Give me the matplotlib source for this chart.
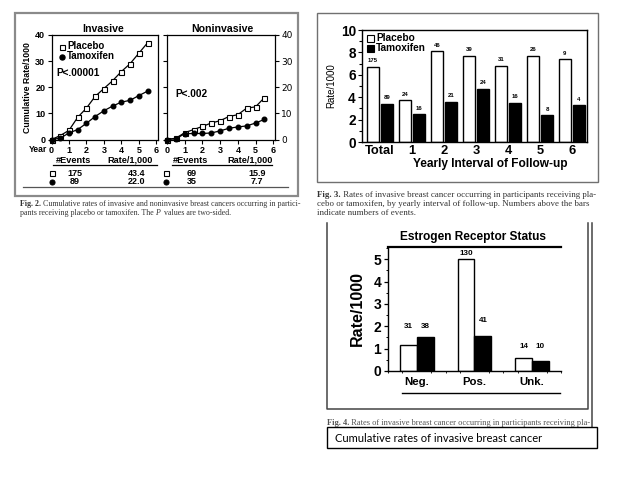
import numpy as np
import matplotlib
matplotlib.use('Agg')
import matplotlib.pyplot as plt
from matplotlib.lines import Line2D
from matplotlib.patches import Rectangle
from matplotlib.ticker import MultipleLocator

# --- Fig. 2: cumulative rates -------------------------------------------
years = [0, 0.5, 1, 1.5, 2, 2.5, 3, 3.5, 4, 4.5, 5, 5.5]
inv_placebo = [0, 1.5, 3.5, 8.5, 12, 16.5, 19.5, 22.5, 26, 29, 33, 37]
inv_tamox = [0, 0.5, 2.5, 3.8, 6.2, 8.8, 11, 12.8, 14.3, 15, 16.8, 18.5]
non_placebo = [0, 0.5, 2.6, 3.8, 5, 6.3, 7.2, 8.8, 9.5, 12, 12.5, 16]
non_tamox = [0, 0.3, 2.2, 2.3, 2.3, 2.5, 3.3, 4.3, 4.8, 5.2, 6.3, 7.7]
inv_table = [('175', '43.4'), ('89', '22.0')]
non_table = [('69', '15.9'), ('35', '7.7')]

# --- Fig. 3: yearly interval -------------------------------------------
intervals = ['Total', '1', '2', '3', '4', '5', '6']
yr_placebo = [6.7, 3.75, 8.1, 7.7, 6.8, 7.7, 7.4]
yr_tamox = [3.4, 2.5, 3.6, 4.75, 3.5, 2.4, 3.3]
yr_placebo_n = ['175', '24', '46', '39', '31', '26', '9']
yr_tamox_n = ['89', '16', '21', '24', '16', '8', '4']

# --- Fig. 4: estrogen receptor status ----------------------------------
er_cats = ['Neg.', 'Pos.', 'Unk.']
er_placebo = [1.18, 5.0, 0.58]
er_tamox = [1.5, 1.55, 0.43]
er_placebo_n = ['31', '130', '14']
er_tamox_n = ['38', '41', '10']

W, H = 638, 479
fig = plt.figure(figsize=(W / 100, H / 100), dpi=100)
fig.patch.set_facecolor('white')
renderer = fig.canvas.get_renderer()

SANS = ['Liberation Sans', 'DejaVu Sans']
SERIF = ['Liberation Serif', 'DejaVu Serif']


def px_axes(l, t, r, b):
    return fig.add_axes([l / W, 1 - b / H, (r - l) / W, (b - t) / H])


def ftext(x, y, s, **kw):
    kw.setdefault('family', SANS)
    return fig.text(x / W, 1 - y / H, s, **kw)


def fline(xs, ys, **kw):
    kw.setdefault('color', 'black')
    kw.setdefault('lw', 1)
    fig.add_artist(Line2D([x / W for x in xs], [1 - y / H for y in ys], **kw))


def frect(l, t, r, b, **kw):
    fig.add_artist(Rectangle((l / W, 1 - b / H), (r - l) / W, (b - t) / H,
                             transform=fig.transFigure, **kw))


def caption(x, y, pieces, size, color='#333333'):
    # pieces: list of (text, weight, style); drawn one after another
    for s, weight, style in pieces:
        t = ftext(x, y, s, family=SERIF, fontsize=size, color=color,
                  fontweight=weight, fontstyle=style, va='center')
        x += t.get_window_extent(renderer).width
        if style == 'italic':
            x += 1.5


# ===================== Fig. 2 ==========================================
frect(15, 13, 298, 196, fill=False, edgecolor='#8a8a8a', lw=1.6)

ax_inv = px_axes(51.5, 35, 158, 139.5)
ax_non = px_axes(167, 35, 275, 139.5)
for ax, pl, tm in [(ax_inv, inv_placebo, inv_tamox), (ax_non, non_placebo, non_tamox)]:
    ax.plot(years, pl, color='black', lw=0.9, marker='s', ms=3.6,
            mfc='white', mec='black', mew=0.8, clip_on=False, zorder=3)
    ax.plot(years, tm, color='black', lw=0.9, marker='o', ms=3.3,
            mfc='black', mec='black', clip_on=False, zorder=3)
    ax.set_xlim(0, 6.1)
    ax.set_ylim(0, 40)
    ax.set_xticks(range(7))
    ax.set_yticks([0, 10, 20, 30, 40])
    for sp in ax.spines.values():
        sp.set_linewidth(0.9)
    ax.tick_params(direction='out', length=3, width=0.8, pad=1.5,
                   labelsize=6.5)
    for lab in ax.get_xticklabels() + ax.get_yticklabels():
        lab.set_fontweight('bold')
        lab.set_family(SANS)

ax_non.tick_params(axis='y', left=True, labelleft=False, right=True,
                   labelright=True)
ax_inv.set_ylabel('Cumulative Rate/1000', fontsize=6.3, fontweight='bold',
                  family=SANS, labelpad=2)

ftext(103, 29, 'Invasive', fontsize=7.6, fontweight='bold', ha='center', va='center')
ftext(222, 29, 'Noninvasive', fontsize=7.6, fontweight='bold', ha='center', va='center')
ftext(47, 149, 'Year', fontsize=6.2, fontweight='bold', ha='right', va='center')

# legend and p-values
ax_inv.plot([0.6], [35.5], marker='s', ms=3.6, mfc='white', mec='black', mew=0.8,
            ls='none')
ax_inv.plot([0.6], [31.7], marker='o', ms=3.6, mfc='black', mec='black', ls='none')
ftext(67, 46, 'Placebo', fontsize=7, fontweight='bold', va='center')
ftext(67, 56, 'Tamoxifen', fontsize=7, fontweight='bold', va='center')
ftext(56, 73, 'P<.00001', fontsize=7.3, fontweight='bold', va='center')
ftext(175, 94, 'P<.002', fontsize=7.3, fontweight='bold', va='center')

# events table
for cx_ev, cx_rt, x0, x1, sym_x, rows in [(73, 130, 53, 157, 52, inv_table),
                                          (190, 250, 172, 272, 166, non_table)]:
    ftext(cx_ev, 160.5, '#Events', fontsize=6.6, fontweight='bold', ha='center', va='center')
    ftext(cx_rt, 160.5, 'Rate/1,000', fontsize=6.6, fontweight='bold', ha='center', va='center')
    fline([x0, x1], [165, 165], lw=0.9)
    for (n, r), yy, mk, fc in zip(rows, [173, 181.5], ['s', 'o'], ['white', 'black']):
        fig.add_artist(Line2D([sym_x / W], [1 - yy / H], marker=mk, ms=3.6,
                              mfc=fc, mec='black', mew=0.8, ls='none'))
        ftext(cx_ev + 2, yy, n, fontsize=6.5, fontweight='bold', ha='center', va='center')
        ftext(cx_rt + 7, yy, r, fontsize=6.5, fontweight='bold', ha='center', va='center')
fline([23, 288], [186.5, 186.5], lw=0.9, color='#555555')

caption(20, 204, [('Fig. 2.', 'bold', 'normal'),
                  (' Cumulative rates of invasive and noninvasive breast cancers occurring in partici-',
                   'normal', 'normal')], 5.65)
caption(20, 213, [('pants receiving placebo or tamoxifen. The', 'normal', 'normal'),
                  (' P', 'normal', 'italic'),
                  (' values are two-sided.', 'normal', 'normal')], 5.65)

# ===================== Fig. 3 ==========================================
frect(317, 13, 598, 182, fill=False, edgecolor='#707070', lw=1.0)
ax3 = px_axes(362, 30, 587, 142)
x = np.arange(len(intervals))
bw = 0.37
off = 0.22
bp = ax3.bar(x - off, yr_placebo, bw, color='white', edgecolor='black', lw=1.0)
bt = ax3.bar(x + off, yr_tamox, bw, color='black', edgecolor='black', lw=1.0)
for bars, labels in [(bp, yr_placebo_n), (bt, yr_tamox_n)]:
    for b, lab in zip(bars, labels):
        ax3.annotate(lab, (b.get_x() + b.get_width() / 2, b.get_height()),
                     xytext=(0, 2.5), textcoords='offset points', ha='center',
                     va='bottom', fontsize=4.3, fontweight='bold', family=SANS)
ax3.set_xlim(-0.56, 6.47)
ax3.set_ylim(0, 10)
ax3.set_xticks(x)
ax3.set_xticklabels(intervals)
ax3.set_yticks([0, 2, 4, 6, 8, 10])
ax3.yaxis.set_minor_locator(MultipleLocator(1))
ax3.tick_params(axis='x', length=0, pad=2, labelsize=9.3)
ax3.tick_params(axis='y', which='major', direction='out', length=3, width=0.8,
                pad=1.5, labelsize=9.8)
ax3.tick_params(axis='y', which='minor', direction='out', length=2, width=0.8)
for lab in ax3.get_xticklabels() + ax3.get_yticklabels():
    lab.set_fontweight('bold')
    lab.set_family(SANS)
for sp in ax3.spines.values():
    sp.set_linewidth(1.0)
ax3.set_ylabel('Rate/1000', fontsize=7, family=SANS, labelpad=3)
ftext(490, 164, 'Yearly Interval of Follow-up', fontsize=8.6, fontweight='bold',
      ha='center', va='center')

# legend
for yy, fc, lab in [(38, 'white', 'Placebo'), (48, 'black', 'Tamoxifen')]:
    frect(367, yy - 3.5, 374, yy + 3.5, facecolor=fc, edgecolor='black', lw=0.8)
    ftext(376, yy, lab, fontsize=7.3, fontweight='bold', va='center')

caption(317, 195, [('Fig. 3.', 'bold', 'normal'),
                   (' Rates of invasive breast cancer occurring in participants receiving pla-',
                    'normal', 'normal')], 6.4)
caption(317, 204, [('cebo or tamoxifen, by yearly interval of follow-up. Numbers above the bars',
                    'normal', 'normal')], 6.4)
caption(317, 213, [('indicate numbers of events.', 'normal', 'normal')], 6.4)

# ===================== Fig. 4 ==========================================
fline([327, 327, 588, 588], [223, 409, 409, 223], lw=1.1, color='#444444')
fline([592, 592], [223, 427], lw=1.1, color='#444444')

ax4 = px_axes(388, 247, 561, 371)
x4 = np.arange(len(er_cats))
bw4 = 0.29
p4 = ax4.bar(x4 - bw4 / 2, er_placebo, bw4, color='white', edgecolor='black', lw=1.0)
t4 = ax4.bar(x4 + bw4 / 2, er_tamox, bw4, color='black', edgecolor='black', lw=1.0)
for i in range(len(er_cats)):
    hp, ht = er_placebo[i], er_tamox[i]
    # labels sit above the taller bar of a pair unless the bars differ a lot
    close = abs(hp - ht) < 1
    yp = yt = max(hp, ht)
    if not close:
        yp, yt = hp, ht
    ax4.annotate(er_placebo_n[i], (x4[i] - bw4 / 2, yp),
                 xytext=(0, 5.5 if close else 1.5),
                 textcoords='offset points', ha='center', va='bottom',
                 fontsize=5.8, fontweight='bold', family=SANS)
    ax4.annotate(er_tamox_n[i], (x4[i] + bw4 / 2, yt),
                 xytext=(0, 5.5 if close else 9),
                 textcoords='offset points', ha='center', va='bottom',
                 fontsize=5.8, fontweight='bold', family=SANS)
ax4.set_xlim(-0.5, 2.5)
ax4.set_ylim(0, 5.55)
ax4.set_xticks(x4)
ax4.set_xticklabels(er_cats)
ax4.set_yticks(range(6))
ax4.yaxis.set_minor_locator(MultipleLocator(0.5))
ax4.xaxis.set_minor_locator(MultipleLocator(0.25))
ax4.spines['right'].set_visible(False)
ax4.spines['top'].set_linewidth(1.6)
ax4.spines['left'].set_linewidth(1.0)
ax4.spines['bottom'].set_linewidth(1.0)
ax4.tick_params(axis='x', which='major', length=0, pad=4, labelsize=8.2)
ax4.tick_params(axis='x', which='minor', direction='out', length=1.5, width=0.6)
ax4.tick_params(axis='y', which='major', direction='out', length=3, width=0.9,
                pad=2, labelsize=10)
ax4.tick_params(axis='y', which='minor', direction='out', length=1.5, width=0.7)
for lab in ax4.get_xticklabels() + ax4.get_yticklabels():
    lab.set_fontweight('bold')
    lab.set_family(SANS)
ax4.set_ylabel('Rate/1000', fontsize=11.5, fontweight='bold', family=SANS, labelpad=6)
ftext(473, 237, 'Estrogen Receptor Status', fontsize=8.6, fontweight='bold',
      ha='center', va='center')
fline([402, 560], [393, 393], lw=1.0)

caption(327, 423, [('Fig. 4.', 'bold', 'normal'),
                   (' Rates of invasive breast cancer occurring in participants receiving pla-',
                    'normal', 'normal')], 6.0, color='#555555')

# caption box
frect(327, 427, 597, 448, facecolor='white', edgecolor='black', lw=1.0, zorder=5)
ftext(335, 438, 'Cumulative rates of invasive breast cancer', fontsize=8,
      family=['Lato', 'DejaVu Sans'], va='center', zorder=6)

fig.savefig('out.png', dpi=100, facecolor='white')
